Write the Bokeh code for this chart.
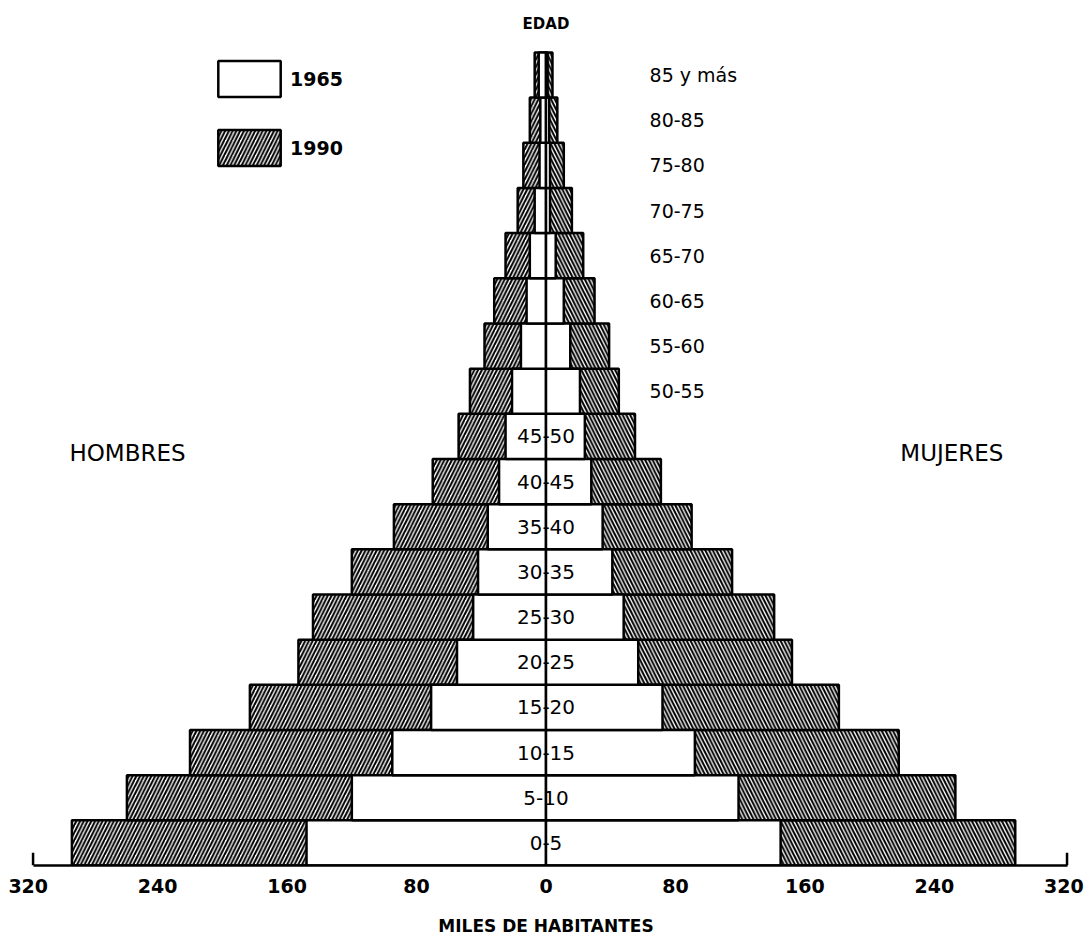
from bokeh.plotting import figure
from bokeh.models import ColumnDataSource, FixedTicker, Label, Legend, LegendItem, Range1d
from bokeh.core.properties import value
from bokeh.embed import file_html
from bokeh.resources import INLINE

# ---- data (miles de habitantes) ----
ages = ["0-5", "5-10", "10-15", "15-20", "20-25", "25-30", "30-35", "35-40", "40-45",
        "45-50", "50-55", "55-60", "60-65", "65-70", "70-75", "75-80", "80-85", "85 y más"]
men_1965 = [148, 120, 95, 71, 55, 45, 42, 36, 29, 25, 21, 15.5, 12, 10, 7, 4, 3.5, 4.5]
men_1990 = [293, 259, 220, 183, 153, 144, 120, 94, 70, 54, 47, 38, 32, 25, 17.5, 14, 10, 7]
women_1965 = [145, 119, 92, 72, 57, 48, 41, 35, 28, 24, 21, 15, 11, 6, 2.5, 2.5, 2, 1]
women_1990 = [290, 253, 218, 181, 152, 141, 115, 90, 71, 55, 45, 39, 30, 23, 16, 11, 7, 4]
tick_values = [-320, -240, -160, -80, 0, 80, 160, 240, 320]
tick_labels = {t: str(abs(t)) for t in tick_values}
inside_label_rows = 10  # first ten age groups are labelled inside the bars

FONT = "DejaVu Sans"
n = len(ages)
ypos = [i + 0.5 for i in range(n)]

src = ColumnDataSource(dict(
    y=ypos,
    m65=[-v for v in men_1965], m90=[-v for v in men_1990],
    w65=women_1965, w90=women_1990,
    zero=[0] * n,
))

ROW_PX = 45.17
W, H = 1089, 939
BOTTOM = 74
frame_h = H - BOTTOM
p = figure(width=W, height=H, output_backend="svg", toolbar_location=None,
           x_range=Range1d(-326, 326), y_range=Range1d(0, frame_h / ROW_PX),
           min_border_left=18, min_border_right=16, min_border_top=0,
           min_border_bottom=BOTTOM)
p.title.visible = False
p.outline_line_color = None
p.xgrid.visible = False
p.ygrid.visible = False
p.yaxis.visible = False
p.background_fill_color = "white"

LW = 2.5
r_m90 = p.hbar(y="y", left="m90", right="zero", height=1, source=src,
               fill_color="white", line_color="black", line_width=LW,
               hatch_pattern="/", hatch_color="black", hatch_weight=2.0, hatch_scale=7.5)
r_w90 = p.hbar(y="y", left="zero", right="w90", height=1, source=src,
               fill_color="white", line_color="black", line_width=LW,
               hatch_pattern="\\", hatch_color="black", hatch_weight=2.0, hatch_scale=7.5)
r_m65 = p.hbar(y="y", left="m65", right="zero", height=1, source=src,
               fill_color="white", line_color="black", line_width=LW)
r_w65 = p.hbar(y="y", left="zero", right="w65", height=1, source=src,
               fill_color="white", line_color="black", line_width=LW)

# central axis line
p.segment(x0=[0], y0=[0], x1=[0], y1=[n], line_color="black", line_width=2)

# age labels
in_src = ColumnDataSource(dict(x=[0] * inside_label_rows, y=ypos[:inside_label_rows],
                               t=ages[:inside_label_rows]))
p.text(x="x", y="y", text="t", source=in_src, text_align="center", text_baseline="middle",
       text_font=value(FONT), text_font_size="20px", text_color="black")
out_src = ColumnDataSource(dict(x=[64] * (n - inside_label_rows), y=ypos[inside_label_rows:],
                                t=ages[inside_label_rows:]))
p.text(x="x", y="y", text="t", source=out_src, text_align="left", text_baseline="middle",
       text_font=value(FONT), text_font_size="19px", text_color="black")

# x axis
ax = p.xaxis[0]
ax.ticker = FixedTicker(ticks=tick_values)
ax.major_label_overrides = tick_labels
ax.bounds = (-317, 322)
ax.axis_line_width = 2.5
ax.axis_line_color = "black"
ax.major_tick_line_color = None
ax.minor_tick_line_color = None
ax.major_label_standoff = 7
ax.major_label_text_font = FONT
ax.major_label_text_font_style = "bold"
ax.major_label_text_font_size = "19px"
ax.major_label_text_color = "black"
ax.axis_label = "MILES DE HABITANTES"
ax.axis_label_standoff = 20
ax.axis_label_text_font = FONT
ax.axis_label_text_font_style = "bold"
ax.axis_label_text_font_size = "17px"
ax.axis_label_text_color = "black"

# small hooks at the axis ends
p.segment(x0=[-317, 322], y0=[0, 0], x1=[-317, 322], y1=[0.28, 0.28],
          line_color="black", line_width=2.5)

# texts
p.add_layout(Label(x=0, y=18.62, text="EDAD", text_align="center", text_baseline="middle",
                   text_font=FONT, text_font_style="bold", text_font_size="15px",
                   text_color="black"))
p.add_layout(Label(x=-294.5, y=9.14, text="HOMBRES", text_align="left", text_baseline="middle",
                   text_font=FONT, text_font_size="23px", text_color="black"))
p.add_layout(Label(x=219, y=9.14, text="MUJERES", text_align="left", text_baseline="middle",
                   text_font=FONT, text_font_size="23px", text_color="black"))

legend = Legend(items=[LegendItem(label="1965", renderers=[r_m65]),
                       LegendItem(label="1990", renderers=[r_m90])],
                location=(192, 695), border_line_color=None, background_fill_alpha=0,
                glyph_width=78, glyph_height=45, spacing=24, label_standoff=2,
                padding=0, margin=0, label_text_font=FONT, label_text_font_style="bold",
                label_text_font_size="19px", label_text_color="black")
p.add_layout(legend)

open("out.html", "w").write(file_html(p, INLINE))
